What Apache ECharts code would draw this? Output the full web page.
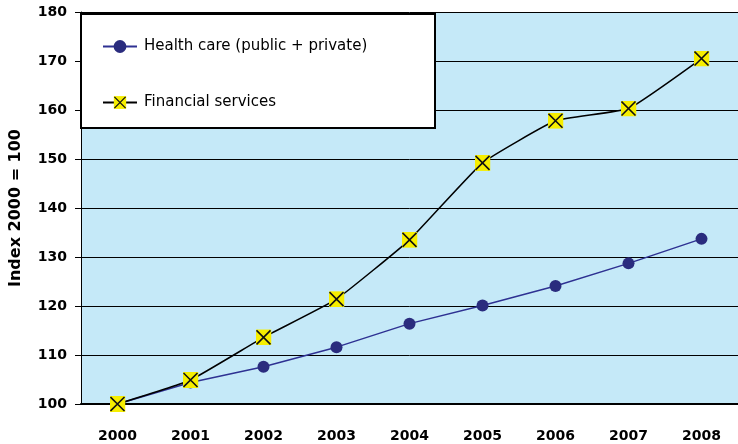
<!DOCTYPE html>
<html>
<head>
<meta charset="utf-8">
<script src="https://cdn.jsdelivr.net/npm/echarts@6/dist/echarts.min.js"></script>
<style>html,body{margin:0;padding:0;background:#fff;}#c{width:738px;height:444px;}</style>
</head>
<body>
<div id="c"></div>
<script>
var years = ['2000','2001','2002','2003','2004','2005','2006','2007','2008'];
var healthCare = [100, 104.4, 107.6, 111.6, 116.4, 120.1, 124.1, 128.7, 133.7];
var financial = [100, 104.9, 113.6, 121.4, 133.5, 149.2, 157.8, 160.3, 170.5];
var yTicks = {min: 100, max: 180, interval: 10};

var xSvg = '<svg xmlns="http://www.w3.org/2000/svg" width="16" height="16" viewBox="0 0 16 16"><rect width="16" height="16" fill="#f6ee00"/><path d="M1 1L15 15M15 1L1 15" stroke="#111" stroke-width="1.6"/></svg>';
var xSymbol = 'image://data:image/svg+xml;charset=utf-8,' + encodeURIComponent(xSvg);

var chart = echarts.init(document.getElementById('c'));
chart.setOption({
  animation: false,
  grid: {left: 79, right: 0, top: 12, bottom: 40, show: true, backgroundColor: '#c5e9f8', borderWidth: 0},
  graphic: [{
    type: 'rect', left: 80, top: 13, z: 50,
    shape: {width: 354, height: 114},
    style: {fill: '#fff', stroke: '#000', lineWidth: 2}
  }],
  legend: {
    orient: 'vertical', left: 97, top: 34, z: 60,
    itemWidth: 34, itemHeight: 16, itemGap: 41,
    textStyle: {fontFamily: 'DejaVu Sans', fontSize: 15, color: '#000', padding: [0, 0, 0, 2]},
    data: ['Health care (public + private)', 'Financial services']
  },
  xAxis: {
    type: 'category', data: years, boundaryGap: true,
    axisLine: {lineStyle: {color: '#000', width: 2}},
    axisTick: {length: 9, lineStyle: {color: '#000', width: 1}},
    axisLabel: {margin: 25, fontFamily: 'DejaVu Sans', fontWeight: 'bold', fontSize: 14, color: '#000'}
  },
  yAxis: {
    type: 'value', min: yTicks.min, max: yTicks.max, interval: yTicks.interval,
    name: 'Index 2000 = 100', nameLocation: 'middle', nameGap: 57,
    nameTextStyle: {fontFamily: 'DejaVu Sans', fontWeight: 'bold', fontSize: 16, color: '#000'},
    axisLine: {show: true, lineStyle: {color: '#000', width: 1}},
    axisTick: {show: true, length: 6, lineStyle: {color: '#000'}},
    axisLabel: {margin: 14, fontFamily: 'DejaVu Sans', fontWeight: 'bold', fontSize: 14, color: '#000'},
    splitLine: {show: true, lineStyle: {color: '#000', width: 1}}
  },
  series: [
    {
      name: 'Health care (public + private)', type: 'line', data: healthCare,
      symbol: 'circle', symbolSize: 12,
      lineStyle: {color: '#2e3192', width: 1.5},
      itemStyle: {color: '#2a2c7e'}, z: 3
    },
    {
      name: 'Financial services', type: 'line', data: financial, smooth: 0.12,
      symbol: xSymbol, symbolSize: 16,
      lineStyle: {color: '#000', width: 1.5},
      itemStyle: {color: '#000'}, z: 4
    }
  ]
});
</script>
</body>
</html>
